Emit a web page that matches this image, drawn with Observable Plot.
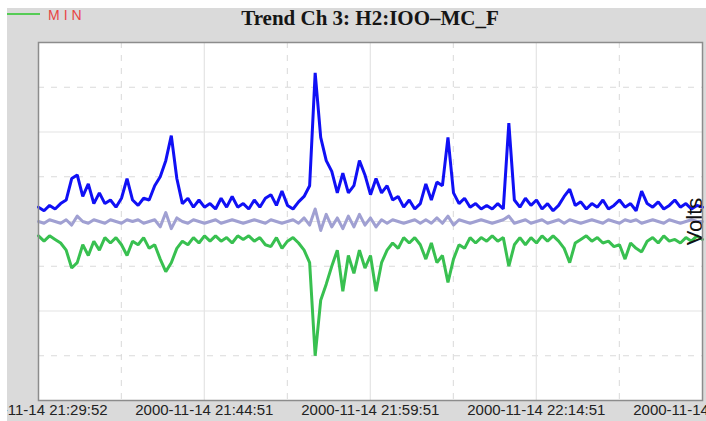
<!DOCTYPE html>
<html>
<head>
<meta charset="utf-8">
<script src="https://cdn.jsdelivr.net/npm/d3@7"></script>
<script src="https://cdn.jsdelivr.net/npm/@observablehq/plot@0.6"></script>
<style>
  html, body { margin: 0; padding: 0; background: #ffffff; }
  #panel { position: absolute; left: 7px; top: 8px; width: 699px; height: 413px; background: #dadada; clip-path: inset(-20px -40px -20px 0px); }
  #header { position: relative; height: 26px; }
  #title { position: absolute; left: 363px; top: -2.5px; transform: translateX(-50%); white-space: nowrap;
           font-family: "Liberation Serif", "Times New Roman", serif; font-weight: bold; font-size: 21px; color: #151515; }
  #legline { position: absolute; left: 0px; top: 5px; width: 33px; height: 2px; background: #55cc55; }
  #legtext { position: absolute; left: 41px; top: -1.5px; font-family: "Liberation Sans", Arial, sans-serif; font-size: 14px;
             letter-spacing: 4px; color: #e84545; }
  #chart svg { display: block; overflow: visible; }
</style>
</head>
<body>
<div id="panel">
  <div id="header">
    <div id="legline"></div>
    <div id="legtext">MIN</div>
    <div id="title">Trend Ch 3: H2:IOO–MC_F</div>
  </div>
  <div id="chart"></div>
</div>
<script>
// Tick labels (x axis)
const tickLabels = ["2000-11-14 21:29:52", "2000-11-14 21:44:51", "2000-11-14 21:59:51", "2000-11-14 22:14:51", "2000-11-14 22:29:51"];
const minorXLabels = ["2000-11-14 21:37:21", "2000-11-14 21:52:21", "2000-11-14 22:07:21", "2000-11-14 22:22:21"];
const majorY = [-0.5, 0, 0.5];
const minorY = [-0.75, -0.25, 0.25, 0.75];
const sampleSeconds = 30;

// Series values (volts), one sample every 30 s
const MAX = [0.08,0.06,0.09,0.07,0.10,0.12,0.24,0.26,0.14,0.21,
 0.10,0.16,0.10,0.12,0.08,0.13,0.24,0.12,0.09,0.13,
 0.12,0.20,0.25,0.34,0.48,0.24,0.10,0.13,0.08,0.12,
 0.08,0.10,0.07,0.13,0.08,0.14,0.08,0.10,0.07,0.12,
 0.08,0.13,0.15,0.09,0.17,0.09,0.07,0.11,0.14,0.20,
 0.83,0.47,0.34,0.28,0.16,0.27,0.16,0.20,0.34,0.26,
 0.15,0.24,0.16,0.20,0.12,0.14,0.08,0.12,0.07,0.10,
 0.21,0.12,0.22,0.20,0.47,0.16,0.10,0.13,0.08,0.10,
 0.07,0.09,0.07,0.10,0.07,0.55,0.12,0.08,0.13,0.09,
 0.12,0.07,0.10,0.06,0.09,0.14,0.18,0.09,0.11,0.07,
 0.10,0.08,0.12,0.07,0.09,0.12,0.08,0.10,0.06,0.17,
 0.10,0.08,0.11,0.07,0.09,0.12,0.08,0.10,0.07,0.09,0.08];

const MEAN = [0.00,-0.01,0.01,0.00,-0.01,0.01,-0.02,0.03,0.00,-0.01,
 0.01,0.00,-0.01,0.01,0.00,-0.01,0.01,0.00,0.01,-0.01,
 0.00,0.01,-0.03,0.05,-0.04,0.02,0.00,-0.01,0.01,0.00,
 -0.01,0.00,0.01,-0.01,0.00,0.01,0.00,-0.01,0.00,0.01,
 0.00,-0.01,0.01,0.00,-0.01,0.00,0.01,-0.01,0.02,-0.02,
 0.07,-0.05,0.04,-0.03,0.02,-0.04,0.03,-0.03,0.04,-0.02,
 0.02,-0.03,0.01,-0.01,0.01,0.00,-0.01,0.00,0.01,-0.01,
 0.01,-0.01,0.02,-0.01,0.03,-0.02,0.01,0.00,-0.01,0.00,
 0.01,0.00,-0.01,0.00,0.01,0.03,-0.01,0.00,0.01,-0.01,
 0.00,0.01,-0.01,0.00,0.01,-0.01,0.01,0.00,-0.01,0.00,
 0.01,0.00,-0.01,0.01,0.00,-0.01,0.01,0.00,0.01,-0.01,
 0.00,0.01,0.00,-0.01,0.01,0.00,-0.01,0.00,0.01,0.00,0.00];

const MIN = [-0.08,-0.11,-0.08,-0.10,-0.12,-0.16,-0.26,-0.23,-0.13,-0.19,
 -0.11,-0.16,-0.09,-0.12,-0.09,-0.13,-0.19,-0.11,-0.13,-0.09,
 -0.15,-0.13,-0.21,-0.28,-0.23,-0.15,-0.11,-0.13,-0.09,-0.12,
 -0.08,-0.11,-0.08,-0.11,-0.09,-0.12,-0.08,-0.10,-0.08,-0.11,
 -0.09,-0.13,-0.14,-0.09,-0.15,-0.11,-0.09,-0.12,-0.16,-0.23,
 -0.75,-0.44,-0.35,-0.25,-0.16,-0.39,-0.19,-0.29,-0.16,-0.26,
 -0.19,-0.39,-0.23,-0.16,-0.12,-0.15,-0.09,-0.12,-0.09,-0.13,
 -0.21,-0.12,-0.23,-0.19,-0.34,-0.21,-0.13,-0.15,-0.09,-0.12,
 -0.09,-0.11,-0.08,-0.11,-0.09,-0.25,-0.13,-0.09,-0.13,-0.09,
 -0.12,-0.08,-0.11,-0.08,-0.11,-0.15,-0.23,-0.12,-0.10,-0.08,
 -0.11,-0.09,-0.12,-0.11,-0.14,-0.13,-0.21,-0.12,-0.15,-0.17,
 -0.11,-0.09,-0.12,-0.08,-0.11,-0.10,-0.12,-0.09,-0.11,-0.08,-0.10];

const parse = d3.utcParse("%Y-%m-%d %H:%M:%S");
const fmt = d3.utcFormat("%Y-%m-%d %H:%M:%S");
const tickDates = tickLabels.map(parse);
const minorDates = minorXLabels.map(parse);
const start = tickDates[0];
const times = MAX.map((_, i) => new Date(+start + i * sampleSeconds * 1000));
const domainX = [start, times[times.length - 1]];

const chart = Plot.plot({
  width: 699,
  height: 387,
  marginLeft: 31,
  marginRight: 4,
  marginTop: 8,
  marginBottom: 21,
  style: { background: "transparent", fontFamily: "'Liberation Sans', Arial, sans-serif", overflow: "visible" },
  x: { type: "utc", domain: domainX },
  y: { domain: [-1, 1] },
  marks: [
    Plot.frame({ fill: "white" }),
    Plot.ruleX(minorDates, { stroke: "#dadada", strokeDasharray: "6,7" }),
    Plot.ruleY(minorY, { stroke: "#dadada", strokeDasharray: "6,7" }),
    Plot.ruleX(tickDates.slice(1, -1), { stroke: "#e4e4e4", strokeWidth: 1.2 }),
    Plot.ruleY(majorY, { stroke: "#e4e4e4", strokeWidth: 1.2 }),
    Plot.line(MAX, { x: (d, i) => times[i], y: d => d, stroke: "#1010f5", strokeWidth: 3, strokeLinejoin: "bevel" }),
    Plot.line(MIN, { x: (d, i) => times[i], y: d => d, stroke: "#38c050", strokeWidth: 3, strokeLinejoin: "bevel" }),
    Plot.line(MEAN, { x: (d, i) => times[i], y: d => d, stroke: "#a0a0d2", strokeWidth: 3 }),
    Plot.text(["Volts"], { frameAnchor: "right", rotate: -90, textAnchor: "middle", lineAnchor: "bottom", fontSize: 22, fill: "#111", dx: -1 }),
    Plot.frame({ stroke: "#8c8c8c", strokeWidth: 1.5 }),
    Plot.axisX({ ticks: tickDates, tickFormat: fmt, tickSize: 0, tickPadding: 4, fontSize: 15, fill: "#222", label: null }),
    Plot.axisY({ ticks: [], label: null })
  ]
});
document.getElementById("chart").appendChild(chart);
</script>
</body>
</html>
